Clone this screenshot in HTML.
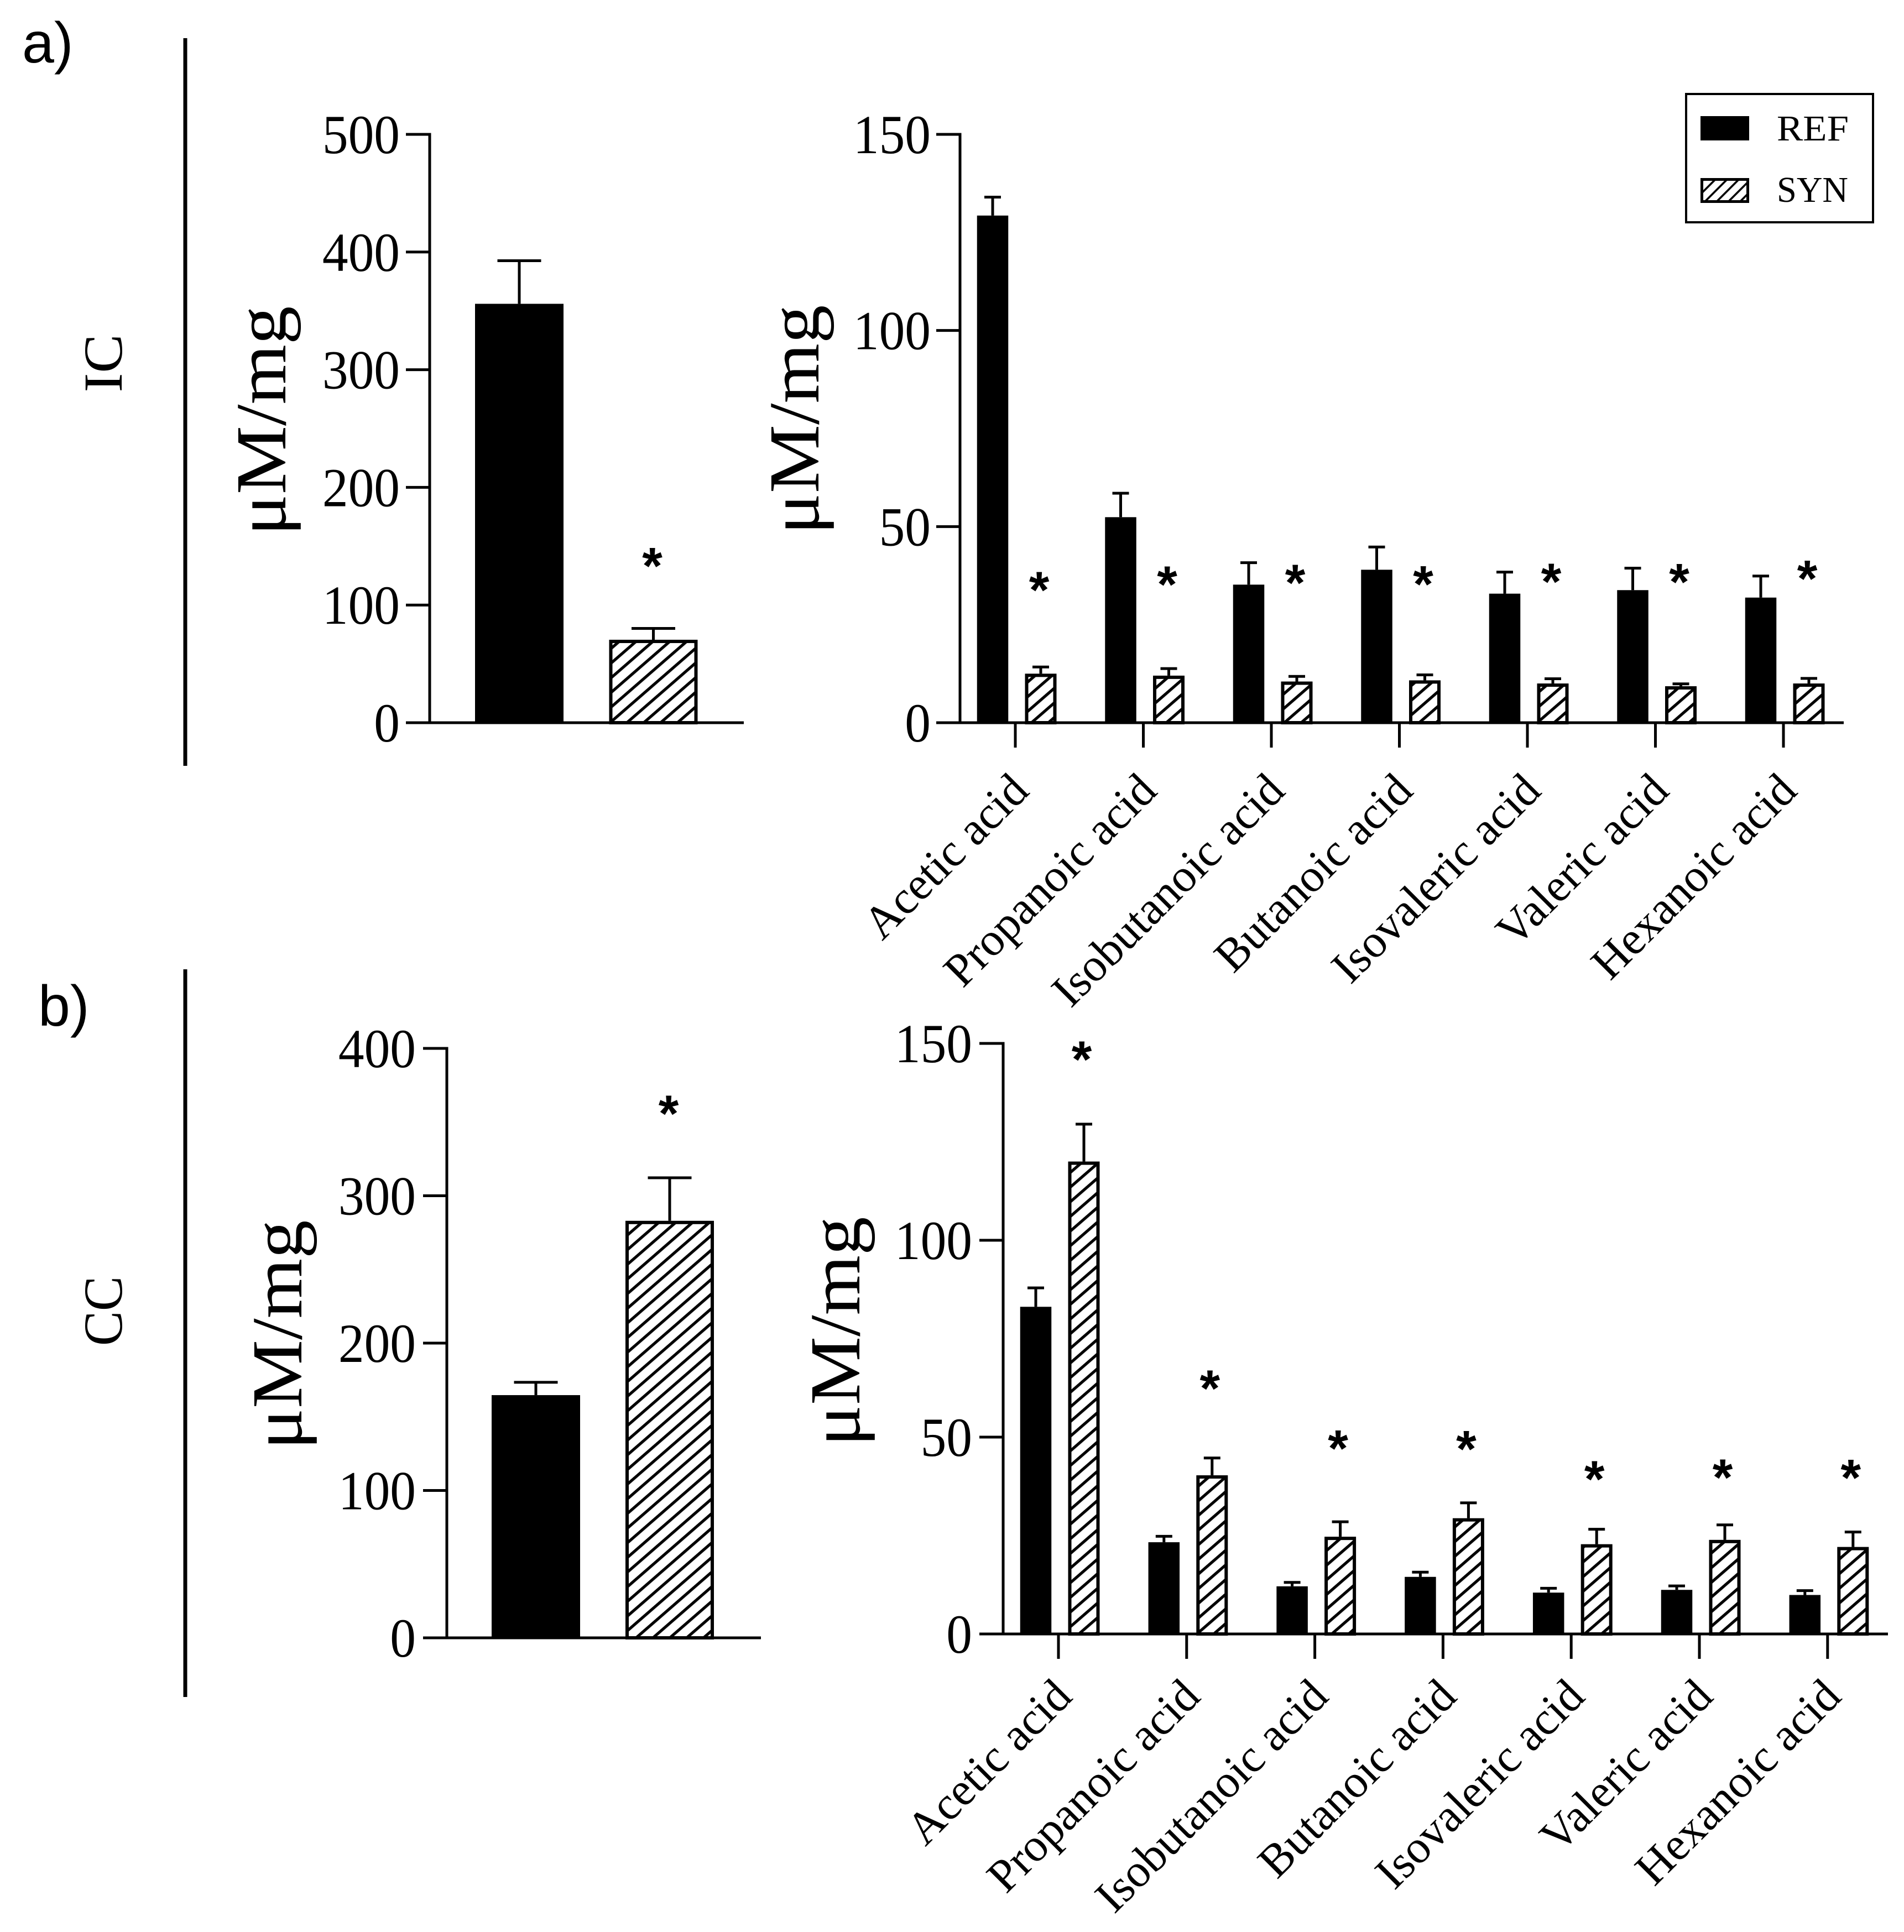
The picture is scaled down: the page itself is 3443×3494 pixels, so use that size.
<!DOCTYPE html>
<html lang="en">
<head>
<meta charset="utf-8">
<title>Short-chain fatty acid concentrations in IC and CC</title>
<style>
html,body{margin:0;padding:0;background:#fff;}
svg{display:block;}
.serif{font-family:"Liberation Serif",serif;fill:#000;}
.sans{font-family:"Liberation Sans",sans-serif;fill:#000;}
</style>
</head>
<body>
<svg id="figure" xmlns="http://www.w3.org/2000/svg" width="3443" height="3494" viewBox="0 0 3443 3494">
  <defs>
    <pattern id="hatch" patternUnits="userSpaceOnUse" width="20" height="20" patternTransform="rotate(-41)">
      <rect width="20" height="20" fill="#fff"/>
      <rect y="7.5" width="20" height="5.2" fill="#000"/>
    </pattern>
    <pattern id="hatch-small" patternUnits="userSpaceOnUse" width="15" height="15" patternTransform="rotate(-45)">
      <rect width="15" height="15" fill="#fff"/>
      <rect y="6" width="15" height="3.6" fill="#000"/>
    </pattern>
  </defs>
  <rect width="3443" height="3494" fill="#fff"/>

  <text class="sans" x="40" y="113" font-size="104">a)</text>
  <text class="sans" x="69" y="1855" font-size="104">b)</text>

  <line x1="335" y1="69" x2="335" y2="1385" stroke="#000" stroke-width="7"/>
  <line x1="335" y1="1753" x2="335" y2="3069" stroke="#000" stroke-width="7"/>

  <text class="serif" transform="translate(220,657) rotate(-90)" text-anchor="middle" font-size="100" textLength="105" lengthAdjust="spacingAndGlyphs">IC</text>
  <text class="serif" transform="translate(220,2371) rotate(-90)" text-anchor="middle" font-size="100" textLength="126" lengthAdjust="spacingAndGlyphs">CC</text>

  <text class="serif" transform="translate(516,761) rotate(-90)" text-anchor="middle" font-size="130" textLength="415" lengthAdjust="spacingAndGlyphs">μM/mg</text>
  <text class="serif" transform="translate(1480,759) rotate(-90)" text-anchor="middle" font-size="130" textLength="415" lengthAdjust="spacingAndGlyphs">μM/mg</text>
  <text class="serif" transform="translate(545,2414) rotate(-90)" text-anchor="middle" font-size="130" textLength="415" lengthAdjust="spacingAndGlyphs">μM/mg</text>
  <text class="serif" transform="translate(1554,2408) rotate(-90)" text-anchor="middle" font-size="130" textLength="415" lengthAdjust="spacingAndGlyphs">μM/mg</text>

  <g id="charts"></g>

  <g>
    <rect x="3049" y="170" width="338" height="232" fill="#fff" stroke="#000" stroke-width="4"/>
    <rect x="3075" y="210" width="88" height="44" fill="#000"/>
    <text class="serif" x="3213" y="254" font-size="66" textLength="130" lengthAdjust="spacingAndGlyphs">REF</text>
    <rect x="3077.5" y="324.5" width="83" height="40" fill="url(#hatch-small)" stroke="#000" stroke-width="5"/>
    <text class="serif" x="3213" y="365" font-size="66" textLength="129" lengthAdjust="spacingAndGlyphs">SYN</text>
  </g>
</svg>

<script>
// ---------- chart data ----------
const acidNames = ['Acetic acid', 'Propanoic acid', 'Isobutanoic acid', 'Butanoic acid', 'Isovaleric acid', 'Valeric acid', 'Hexanoic acid'];

const icTotalTicks = ['0', '100', '200', '300', '400', '500'];
const icTotalMeans = [356, 70.5];
const icTotalUpper = [392.6, 80.1];
const icTotalStars = [null, 138.3];

const icAcidTicks = ['0', '50', '100', '150'];
const icRefMeans = [129.3, 52.4, 35.2, 39, 32.9, 33.8, 31.9];
const icRefUpper = [134, 58.5, 40.8, 44.8, 38.4, 39.4, 37.4];
const icSynMeans = [12.5, 12, 10.5, 10.8, 10, 9.3, 10];
const icSynUpper = [14.2, 13.8, 11.8, 12.2, 11.2, 9.9, 11.3];
const icAcidStars = [35.4, 36.8, 37.2, 36.9, 37.5, 37.4, 38.3];

const ccTotalTicks = ['0', '100', '200', '300', '400'];
const ccTotalMeans = [164.7, 283];
const ccTotalUpper = [173.4, 312.2];
const ccTotalStars = [null, 359.8];

const ccAcidTicks = ['0', '50', '100', '150'];
const ccRefMeans = [83.1, 23.3, 12.1, 14.5, 10.5, 11.2, 9.9];
const ccRefUpper = [87.9, 24.8, 13.1, 15.7, 11.6, 12.2, 11];
const ccSynMeans = [120, 40.3, 24.7, 29.4, 22.8, 23.9, 22.1];
const ccSynUpper = [129.5, 44.7, 28.5, 33.3, 26.6, 27.7, 25.9];
const ccAcidStars = [147.5, 63.9, 48.7, 48.5, 40.9, 41.3, 41.2];

// ---------- drawing ----------
const SVG_NS = 'http://www.w3.org/2000/svg';
const chartsRoot = document.getElementById('charts');

function el(tag, attrs, parent) {
  const node = document.createElementNS(SVG_NS, tag);
  for (const key in attrs) node.setAttribute(key, attrs[key]);
  parent.appendChild(node);
  return node;
}

function makeYScale(layout, maxValue) {
  return function (v) { return layout.y0 - v * (layout.y0 - layout.yTop) / maxValue; };
}

function drawYAxis(g, layout, ticks, y) {
  const axis = el('line', { x1: layout.axisX, x2: layout.axisX, y1: layout.yTop - 2.5, y2: layout.y0, stroke: '#000', 'stroke-width': 5 }, g);
  
  
  const base = el('line', { x1: layout.axisX - 43, x2: layout.xEnd, y1: layout.y0, y2: layout.y0, stroke: '#000', 'stroke-width': 5 }, g);
  
  
  ticks.forEach(function (label) {
    const ty = y(Number(label));
    const tick = el('line', { x1: layout.axisX - 43, x2: layout.axisX, y1: ty, y2: ty, stroke: '#000', 'stroke-width': 5 }, g);
    
    
    const text = el('text', { class: 'serif', x: layout.labelRight, y: ty + 34, 'text-anchor': 'end', 'font-size': 100, textLength: label.length * 46.7, lengthAdjust: 'spacingAndGlyphs' }, g);
    text.textContent = label;
    
    
  });
}

function drawBar(g, cx, width, mean, upper, hatched, capWidth, y, layout) {
  const top = y(mean);
  const capY = y(upper);
  const stem = el('line', { x1: cx, x2: cx, y1: capY, y2: top, stroke: '#000', 'stroke-width': 5 }, g);
  
  
  const cap = el('line', { x1: cx - capWidth / 2, x2: cx + capWidth / 2, y1: capY, y2: capY, stroke: '#000', 'stroke-width': 5 }, g);
  
  
  if (hatched) {
    const bar = el('rect', { x: cx - width / 2 + 3, y: top + 3, width: width - 6, height: Math.max(0, layout.y0 - top - 3), fill: 'url(#hatch)', stroke: '#000', 'stroke-width': 6 }, g);
    
    
  } else {
    const bar = el('rect', { x: cx - width / 2, y: top, width: width, height: layout.y0 - top, fill: '#000' }, g);
    
    
  }
}

function drawStar(g, cx, level, y) {
  const star = el('text', { class: 'sans', x: cx, y: y(level) + 43, 'text-anchor': 'middle', 'font-size': 94, 'font-weight': 'bold' }, g);
  star.textContent = '*';
  
  
}

function drawTotalPanel(name, layout, ticks, means, upper, stars) {
  const g = el('g', {}, chartsRoot);
  
  
  const y = makeYScale(layout, Number(ticks[ticks.length - 1]));
  means.forEach(function (m, i) {
    const cx = layout.firstCenter + i * layout.step;
    drawBar(g, cx, layout.barWidth, m, upper[i], i === 1, 79, y, layout);
    if (stars[i] !== null) drawStar(g, cx - 2, stars[i], y);
  });
  drawYAxis(g, layout, ticks, y);
}

function drawAcidPanel(name, layout, ticks, refMeans, refUpper, synMeans, synUpper, stars) {
  const g = el('g', {}, chartsRoot);
  
  
  const y = makeYScale(layout, Number(ticks[ticks.length - 1]));
  const xTick = function (i) { return layout.firstTick + i * layout.step; };
  acidNames.forEach(function (label, i) {
    const tx = xTick(i);
    drawBar(g, tx - 41, 56.5, refMeans[i], refUpper[i], false, 30, y, layout);
    drawBar(g, tx + 46, 57, synMeans[i], synUpper[i], true, 30, y, layout);
    drawStar(g, tx + layout.starOffset, stars[i], y);
    const tick = el('line', { x1: tx, x2: tx, y1: layout.y0, y2: layout.y0 + 45, stroke: '#000', 'stroke-width': 5 }, g);
    
    
    const text = el('text', { class: 'serif', transform: 'translate(' + (tx + 28) + ',' + (layout.y0 + layout.labelDrop) + ') rotate(-45)', 'text-anchor': 'end', 'font-size': 84 }, g);
    text.textContent = label;
    
    
  });
  drawYAxis(g, layout, ticks, y);
}

drawTotalPanel('ic-total-chart',
  { axisX: 777, y0: 1307, yTop: 243, xEnd: 1345, labelRight: 723, firstCenter: 939, step: 242.5, barWidth: 160 },
  icTotalTicks, icTotalMeans, icTotalUpper, icTotalStars);

drawAcidPanel('ic-acids-chart',
  { axisX: 1736, y0: 1307, yTop: 243, xEnd: 3334, labelRight: 1683, firstTick: 1836, step: 231.5, starOffset: 43, labelDrop: 127 },
  icAcidTicks, icRefMeans, icRefUpper, icSynMeans, icSynUpper, icAcidStars);

drawTotalPanel('cc-total-chart',
  { axisX: 808, y0: 2962, yTop: 1896, xEnd: 1376, labelRight: 752, firstCenter: 969, step: 242, barWidth: 160 },
  ccTotalTicks, ccTotalMeans, ccTotalUpper, ccTotalStars);

drawAcidPanel('cc-acids-chart',
  { axisX: 1814, y0: 2955, yTop: 1887, xEnd: 3414, labelRight: 1758, firstTick: 1914, step: 231.8, starOffset: 42, labelDrop: 117 },
  ccAcidTicks, ccRefMeans, ccRefUpper, ccSynMeans, ccSynUpper, ccAcidStars);
</script>
</body>
</html>
